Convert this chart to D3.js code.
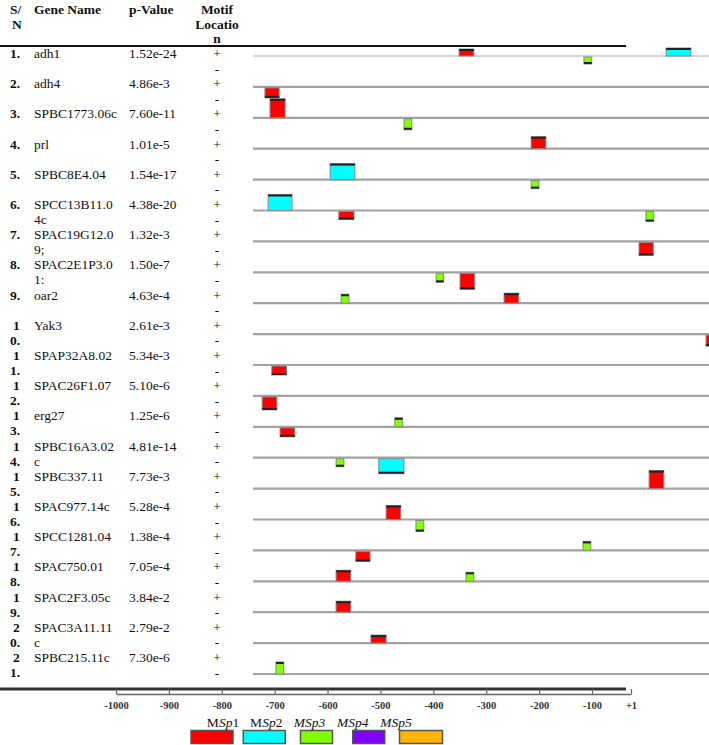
<!DOCTYPE html>
<html><head><meta charset="utf-8">
<script src="https://cdn.jsdelivr.net/npm/d3@7"></script>
<style>body{margin:0;background:#fff} svg{display:block}</style>
</head><body><svg id="c" width="709" height="745"></svg>
<script>
// ---------- data ----------
const genes = ["adh1","adh4","SPBC1773.06c","prl","SPBC8E4.04","SPCC13B11.04c","SPAC19G12.09;","SPAC2E1P3.01:","oar2","Yak3","SPAP32A8.02","SPAC26F1.07","erg27","SPBC16A3.02c","SPBC337.11","SPAC977.14c","SPCC1281.04","SPAC750.01","SPAC2F3.05c","SPAC3A11.11c","SPBC215.11c"];
const pValues = ["1.52e-24","4.86e-3","7.60e-11","1.01e-5","1.54e-17","4.38e-20","1.32e-3","1.50e-7","4.63e-4","2.61e-3","5.34e-3","5.10e-6","1.25e-6","4.81e-14","7.73e-3","5.28e-4","1.38e-4","7.05e-4","3.84e-2","2.79e-2","7.30e-6"];
const strands = ["+","-"];
const motifTypes = ["MSp1","MSp2","MSp3","MSp4","MSp5"];
const motifColors = ["#ff0000","#00ffff","#80ff00","#8000ff","#ffb300"];
// [gene index, motif type index, strand, start, end, score]
const motifs = [
  [0,0,"+",-551,-519,0.35],[0,1,"+",-100,-46,0.4],[0,2,"-",-279,-262,0.35],
  [1,0,"-",-974,-943,0.5],
  [2,0,"+",-963,-930,0.95],[2,2,"-",-671,-654,0.55],
  [3,0,"+",-394,-362,0.6],
  [4,1,"+",-832,-778,0.8],[4,2,"-",-394,-377,0.4],
  [5,1,"+",-967,-915,0.8],[5,0,"-",-813,-780,0.4],[5,2,"-",-144,-127,0.5],
  [6,0,"-",-159,-128,0.65],
  [7,2,"-",-601,-585,0.45],[7,0,"-",-549,-517,0.8],
  [8,2,"+",-808,-791,0.45],[8,0,"+",-453,-421,0.5],
  [9,0,"-",-13,19,0.55],
  [10,0,"-",-959,-927,0.45],
  [11,0,"-",-980,-948,0.65],
  [12,2,"+",-691,-674,0.45],[12,0,"-",-941,-909,0.45],
  [13,2,"-",-819,-802,0.4],[13,1,"-",-726,-671,0.75],
  [14,0,"+",-137,-105,0.9],
  [15,0,"+",-710,-678,0.7],[15,2,"-",-645,-628,0.55],
  [16,2,"+",-281,-264,0.45],[16,0,"-",-776,-745,0.5],
  [17,0,"+",-819,-787,0.55],[17,2,"+",-536,-519,0.45],
  [18,0,"+",-819,-787,0.55],
  [19,0,"+",-743,-710,0.4],
  [20,2,"+",-950,-933,0.6]
];
const axisTicks = [-1000,-900,-800,-700,-600,-500,-400,-300,-200,-100,1];
const axisTickLabels = ["-1000","-900","-800","-700","-600","-500","-400","-300","-200","-100","+1"];
const headers = [["S/","N"],["Gene Name"],["p-Value"],["Motif","Locatio","n"]];

// ---------- layout ----------
const svg = d3.select("#c");
const font = "'Liberation Serif','Times New Roman',serif";
const n = genes.length;
const rowText = d3.scaleLinear().domain([0, n-1]).range([53, 657]);
const rowLine = d3.scaleLinear().domain([0, n-1]).range([56, 674]);
const pos = d3.scaleLinear().domain([-1000, 0]).range([253, 712]);
const barH = d3.scaleLinear().domain([0, 1]).range([0, 20]);
const axisX = d3.scaleLinear().domain([-1000, -100, 1]).range([116, 592, 631]);
const colX = [10, 34, 129, 217];
const fs = 13.5;

// header
const hdr = svg.append("g").attr("font-family", font).attr("font-size", fs).attr("font-weight", "bold").attr("fill", "#111");
headers.forEach((lines, c) => {
  lines.forEach((t, k) => {
    hdr.append("text").attr("x", c === 3 ? colX[3] : (c === 0 && k === 1 ? colX[0] + 2 : colX[c]))
      .attr("y", 14 + k * 14.5)
      .attr("text-anchor", c === 3 ? "middle" : "start").text(t);
  });
});
svg.append("line").attr("x1", 0).attr("x2", 626).attr("y1", 46).attr("y2", 46).attr("stroke", "#111").attr("stroke-width", 2);

// table rows
const tbl = svg.append("g").attr("font-family", font).attr("font-size", fs).attr("fill", "#111");
const meas = svg.append("text").attr("font-family", font).attr("font-size", fs).attr("visibility", "hidden");
function textW(s) { meas.text(s); return meas.node().getComputedTextLength(); }
// column width: wider than "SPBC1773.06c", narrower than "SPBC16A3.02c"/"SPAC3A11.11c"
const colW = (textW("SPBC1773.06c") + Math.min(textW("SPBC16A3.02c"), textW("SPAC3A11.11c"))) / 2;
function wrap(s, maxW) {
  if (textW(s) <= maxW) return [s];
  let k = s.length;
  while (k > 1) { if (textW(s.slice(0, k)) <= maxW) break; k--; }
  return [s.slice(0, k), s.slice(k)];
}
genes.forEach((g, i) => {
  const y = rowText(i) + 5;
  const sn = `${i + 1}.`;
  if (sn.length > 2) {
    tbl.append("text").attr("x", colX[0] + 3).attr("y", y).attr("font-weight", "bold").text(sn[0]);
    tbl.append("text").attr("x", colX[0]).attr("y", y + 15).attr("font-weight", "bold").text(sn.slice(1));
  } else {
    tbl.append("text").attr("x", colX[0]).attr("y", y).attr("font-weight", "bold").text(sn);
  }
  wrap(g, colW).forEach((t, k) => tbl.append("text").attr("x", colX[1]).attr("y", y + k * 15).text(t));
  tbl.append("text").attr("x", colX[2]).attr("y", y).text(pValues[i]);
  strands.forEach((s, k) => tbl.append("text").attr("x", colX[3]).attr("y", y + k * 15.5).attr("text-anchor", "middle").text(s));
});
meas.remove();

// gene lines
svg.append("g").selectAll("line").data(genes).join("line")
  .attr("x1", pos(-1000)).attr("x2", 712)
  .attr("y1", (d, i) => rowLine(i)).attr("y2", (d, i) => rowLine(i))
  .attr("stroke", (d, i) => i === 0 ? "#c8c8c8" : "#a2a2a2")
  .attr("stroke-width", (d, i) => i === 0 ? 1.5 : 2.2);

// motif bars
const bars = svg.append("g");
motifs.forEach(([gi, t, s, a, b, sc]) => {
  const h = barH(sc), ly = rowLine(gi);
  const y0 = s === "+" ? ly - h : ly + 1;
  const x0 = pos(a), w = pos(b) - pos(a);
  bars.append("rect").attr("x", x0).attr("y", y0).attr("width", w).attr("height", h)
    .attr("fill", motifColors[t]).attr("stroke", "#8a8a8a").attr("stroke-width", 1);
  const ey = s === "+" ? y0 + 1 : y0 + h - 1;
  bars.append("line").attr("x1", x0).attr("x2", x0 + w).attr("y1", ey).attr("y2", ey)
    .attr("stroke", "#222").attr("stroke-width", 2);
});

// bottom thick line and axis
svg.append("line").attr("x1", 0).attr("x2", 626).attr("y1", 689).attr("y2", 689).attr("stroke", "#333").attr("stroke-width", 3);
const ax = svg.append("g").attr("transform", "translate(0,694)")
  .call(d3.axisBottom(axisX).tickValues(axisTicks).tickFormat((d, i) => axisTickLabels[i])
    .tickSize(-5).tickSizeOuter(0).tickPadding(8));
ax.select(".domain").attr("stroke", "#666").attr("stroke-width", 1.5);
ax.selectAll(".tick line").attr("stroke", "#666").attr("stroke-width", 1.2);
ax.selectAll(".tick text").attr("font-family", font).attr("font-size", 10.5).attr("font-weight", "bold").attr("fill", "#333");

// legend
const legBox = d3.scalePoint().domain(motifTypes).range([212, 421]);
const legLab = d3.scalePoint().domain(motifTypes).range([223, 396]);
const boxW = [42, 42, 32, 32, 43];
const leg = svg.append("g");
motifTypes.forEach((m, i) => {
  const cx = legBox(m);
  leg.append("rect").attr("x", cx - boxW[i] / 2).attr("y", 730.5).attr("width", boxW[i]).attr("height", 13)
    .attr("fill", motifColors[i]).attr("stroke", "#555").attr("stroke-width", 1.5);
  if (i === 4) leg.append("line").attr("x1", cx - boxW[i] / 2 + 3).attr("x2", cx + boxW[i] / 2 - 3)
    .attr("y1", 737).attr("y2", 737).attr("stroke", "#ffe49a").attr("stroke-dasharray", "1,2");
  const tx = leg.append("text").attr("x", legLab(m)).attr("y", 727).attr("text-anchor", "middle")
    .attr("font-family", font).attr("font-size", 13.5).attr("fill", "#111");
  const num = m.slice(3);
  if (i < 2) {
    tx.append("tspan").text("M");
    tx.append("tspan").attr("font-style", "italic").text("Sp");
    tx.append("tspan").text(num);
  } else {
    tx.attr("font-style", "italic").text(m);
  }
});
</script>
</body></html>
